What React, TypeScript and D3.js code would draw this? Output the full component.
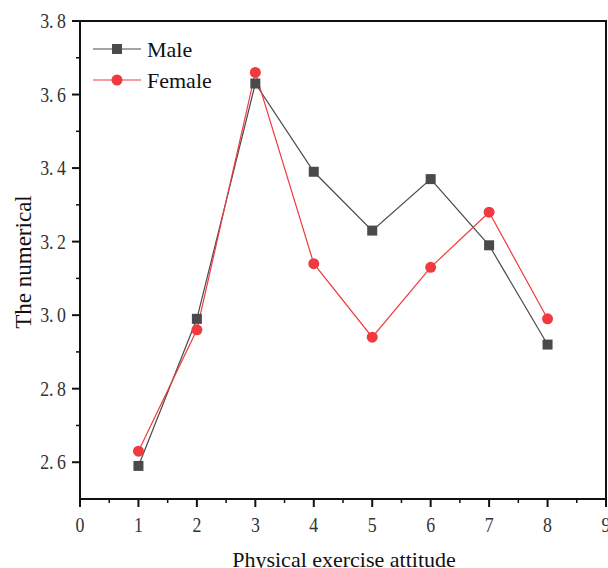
import React from "react";
import * as d3 from "d3";

const xCats = [1, 2, 3, 4, 5, 6, 7, 8];
const maleValues = [2.59, 2.99, 3.63, 3.39, 3.23, 3.37, 3.19, 2.92];
const femaleValues = [2.63, 2.96, 3.66, 3.14, 2.94, 3.13, 3.28, 2.99];
const xTicks = [0, 1, 2, 3, 4, 5, 6, 7, 8, 9];
const yTicks = [2.6, 2.8, 3.0, 3.2, 3.4, 3.6, 3.8];
const seriesNames = ["Male", "Female"];

const W = 608, H = 568;
const left = 80, right = 606, top = 21, bottom = 499;
const font = "'Liberation Serif', 'DejaVu Serif', serif";
const maleColor = "#4a4a4a";
const femaleColor = "#ef3b3f";

export default function App() {
  const x = d3.scaleLinear().domain([0, 9]).range([left, right]);
  const y = d3.scaleLinear().domain([2.5, 3.8]).range([bottom, top]);
  const line = d3.line<[number, number]>().x(d => x(d[0])).y(d => y(d[1]));
  const maleData: [number, number][] = xCats.map((c, i) => [c, maleValues[i]]);
  const femaleData: [number, number][] = xCats.map((c, i) => [c, femaleValues[i]]);
  const xMinor = d3.range(0.5, 9, 1);
  const yMinor = [2.7, 2.9, 3.1, 3.3, 3.5, 3.7];
  const fmt = (v: number) => v.toFixed(1).replace(".", ".\u2009");

  return (
    <svg width={W} height={H} style={{ position: "absolute", left: 0, top: 0, background: "#fff" }}>
      <rect x={left} y={top} width={right - left} height={bottom - top} fill="none" stroke="#111" strokeWidth={2} />
      {yTicks.map(t => (
        <g key={"y" + t}>
          <line x1={left - 8} x2={left} y1={y(t)} y2={y(t)} stroke="#111" strokeWidth={2} />
          <text transform={`translate(${left - 14}, ${y(t) + 7}) scale(0.85,1)`} textAnchor="end" fontFamily={font} fontSize={21} fill="#333" style={{ whiteSpace: "pre" }}>{fmt(t)}</text>
        </g>
      ))}
      {yMinor.map(t => (
        <line key={"ym" + t} x1={left - 4} x2={left} y1={y(t)} y2={y(t)} stroke="#111" strokeWidth={1.5} />
      ))}
      {xTicks.map(t => (
        <g key={"x" + t}>
          <line x1={x(t)} x2={x(t)} y1={bottom} y2={bottom + 8} stroke="#111" strokeWidth={2} />
          <text transform={`translate(${x(t)}, ${bottom + 33}) scale(0.85,1)`} textAnchor="middle" fontFamily={font} fontSize={21} fill="#333">{t}</text>
        </g>
      ))}
      {xMinor.map(t => (
        <line key={"xm" + t} x1={x(t)} x2={x(t)} y1={bottom} y2={bottom + 4} stroke="#111" strokeWidth={1.5} />
      ))}
      <text x={W / 2 + 40} y={567} textAnchor="middle" fontFamily={font} fontSize={22} fill="#111">Physical exercise attitude</text>
      <text transform={`translate(31, ${(top + bottom) / 2 + 2}) rotate(-90)`} textAnchor="middle" fontFamily={font} fontSize={23} fill="#111">The numerical</text>
      <path d={line(maleData) || ""} fill="none" stroke={maleColor} strokeWidth={1.2} />
      <path d={line(femaleData) || ""} fill="none" stroke={femaleColor} strokeWidth={1.2} />
      {maleData.map((d, i) => (
        <rect key={"m" + i} x={x(d[0]) - 5} y={y(d[1]) - 5} width={10} height={10} fill={maleColor} />
      ))}
      {femaleData.map((d, i) => (
        <circle key={"f" + i} cx={x(d[0])} cy={y(d[1])} r={5.5} fill={femaleColor} />
      ))}
      <g>
        <line x1={93} x2={141} y1={49} y2={49} stroke={maleColor} strokeWidth={1.2} />
        <rect x={112} y={44} width={10} height={10} fill={maleColor} />
        <text x={147} y={49} dy="0.35em" fontFamily={font} fontSize={22} fill="#111">{seriesNames[0]}</text>
        <line x1={93} x2={141} y1={80} y2={80} stroke={femaleColor} strokeWidth={1.2} />
        <circle cx={117} cy={80} r={5.5} fill={femaleColor} />
        <text x={147} y={80} dy="0.35em" fontFamily={font} fontSize={22} fill="#111">{seriesNames[1]}</text>
      </g>
    </svg>
  );
}
